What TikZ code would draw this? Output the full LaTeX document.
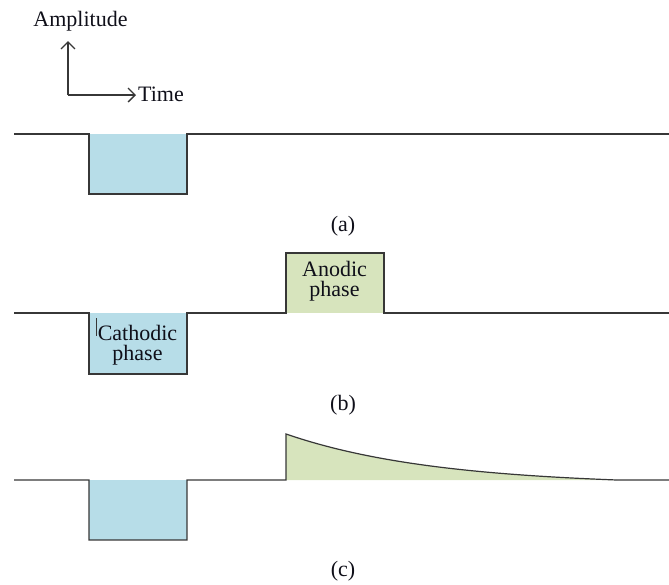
\documentclass[tikz,border=0pt]{standalone}
\usepackage{fontspec}
\setmainfont{Liberation Serif}
\usetikzlibrary{arrows.meta}
\definecolor{cathblue}{RGB}{183,221,232}
\definecolor{anogreen}{RGB}{215,228,189}
\definecolor{linegray}{RGB}{55,55,55}
\definecolor{txt}{RGB}{15,15,25}
\begin{document}
\begin{tikzpicture}[x=1pt,y=-1pt,
  wave/.style={draw=linegray,line width=1.2pt,line join=miter},
  axisline/.style={draw=linegray,line width=1.2pt,-{Straight Barb[length=7pt,width=14pt,line width=1.3pt]}},
  lbl/.style={font=\fontsize{22}{20}\selectfont,text=txt,inner sep=0pt,align=center}]
\useasboundingbox (0,0) rectangle (669,584);

% axes
\coordinate (o) at (68,95);
\coordinate (ytip) at (68,41);
\coordinate (xtip) at (136,95);
\draw[axisline] (o) -- (ytip);
\draw[axisline] (o) -- (xtip);
\node[lbl,anchor=base] (amp) at (80.5,26) {Amplitude};
\node[lbl,anchor=base west] (time) at (138,101.5) {Time};

% (a)
\fill[cathblue] (89,134) rectangle (187,194);
\draw[wave] (14,134) -- (89,134) -- (89,194) -- (187,194) -- (187,134) -- (669,134);
\node[lbl] (la) at (343,226) {(a)};

% (b)
\fill[cathblue] (89,313) rectangle (187,374);
\fill[anogreen] (286,253) rectangle (384,313);
\draw[wave] (14,313) -- (89,313) -- (89,374) -- (187,374) -- (187,313) -- (286,313)
  -- (286,253) -- (384,253) -- (384,313) -- (669,313);
\node[lbl] (cath) at (137.5,345.5) {Cathodic\\phase};
\node[lbl] (anod) at (334.5,281.5) {Anodic\\phase};
\draw[linegray,line width=0.8pt] (96,318) -- (96,336);
\node[lbl] (lb) at (343,405) {(b)};

% (c)
\fill[cathblue] (89,480) rectangle (187,540);
\fill[anogreen] (286,480) -- plot[domain=0:331,samples=90] ({286+\x},{480-51.7*(exp(-\x/150)-0.11)}) -- cycle;
\draw[wave] (14,480) -- (89,480) -- (89,540) -- (187,540) -- (187,480) -- (286,480)
  -- plot[domain=0:331,samples=90] ({286+\x},{480-51.7*(exp(-\x/150)-0.11)}) -- (669,480);
\node[lbl] (lc) at (343,571) {(c)};
\end{tikzpicture}
\end{document}
